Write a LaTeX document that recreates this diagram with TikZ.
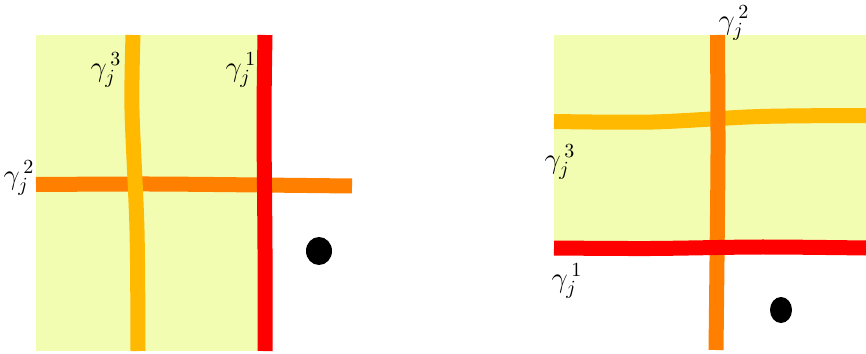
\documentclass[tikz,border=0pt]{standalone}
\usepackage{xcolor}
\definecolor{pastel}{HTML}{F3FDB2}
\definecolor{curvred}{HTML}{FF0000}
\definecolor{curvorange}{HTML}{FF7F00}
\definecolor{curvgold}{HTML}{FFB900}
\usepackage{tikz}
\usetikzlibrary{positioning}
\tikzset{
  region/.style={fill=pastel, draw=none},
  curve/.style={line width=7.5pt, line cap=butt},
  cred/.style={curve, draw=curvred},
  corange/.style={curve, draw=curvorange},
  cgold/.style={curve, draw=curvgold},
  lab/.style={inner sep=0pt, font=\Large},
  puncture/.style={fill=black, draw=none}
}

\begin{document}
\begin{tikzpicture}[x=0.5pt, y=-0.5pt]
  \useasboundingbox (0,0) rectangle (866,353);
  % left panel
  \fill[region] (36,35) rectangle (265,351);
  \draw[corange] plot[smooth] coordinates {(36,184.5) (150,184) (260,185) (352,186)};
  \draw[cgold] plot[smooth] coordinates {(133,35) (132,110) (137,230) (138,351)};
  \draw[cred] plot[smooth] coordinates {(265,35) (264,120) (265,250) (265,351)};
  \fill[puncture] (319,251) ellipse [x radius=13, y radius=14];
  \node[lab] (l3) at (106,70) {$\gamma_j^{\,3}$};
  \node[lab] (l1) at (241,70) {$\gamma_j^{\,1}$};
  \node[lab] (l2) at (19,178) {$\gamma_j^{\,2}$};
  % right panel
  \fill[region] (554,35) rectangle (866,248);
  \draw[cgold] plot[smooth] coordinates {(554,121.5) (653,122) (760,116.5) (866,115.5)};
  \draw[corange] plot[smooth] coordinates {(717.5,35) (718,150) (717,260) (716,350)};
  \draw[cred] plot[smooth] coordinates {(554,248) (650,248.5) (760,247) (866,248)};
  \fill[puncture] (781,310) ellipse [x radius=11, y radius=13];
  \node[lab] (r2) at (734,23) {$\gamma_j^{\,2}$};
  \node[lab] (r3) at (560,162) {$\gamma_j^{\,3}$};
  \node[lab] (r1) at (567,281) {$\gamma_j^{\,1}$};
\end{tikzpicture}
\end{document}
